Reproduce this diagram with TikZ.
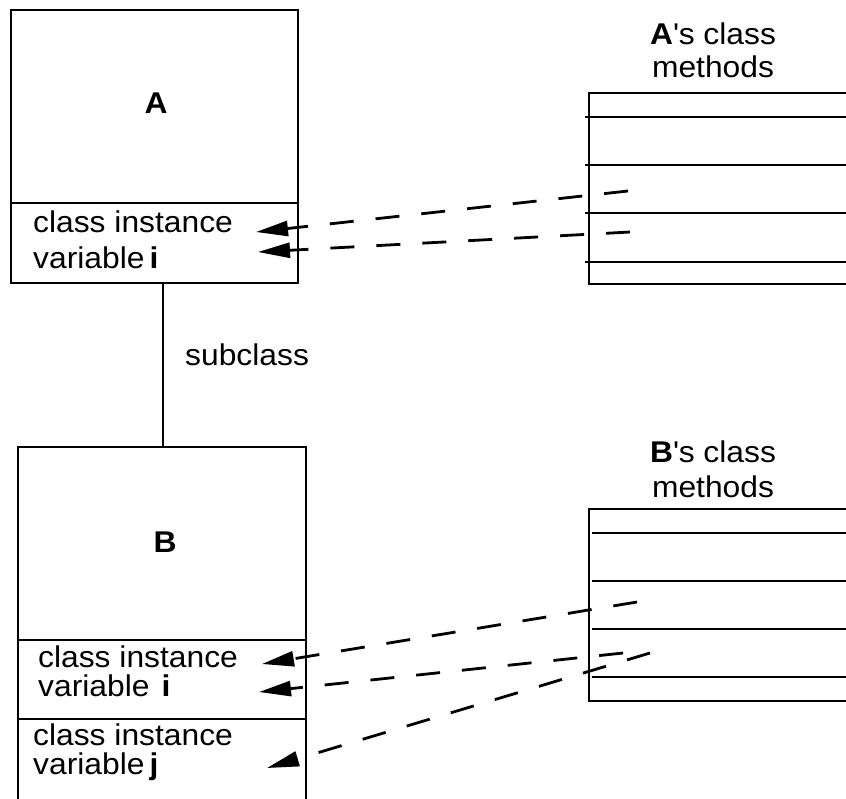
\documentclass[tikz,border=0pt]{standalone}
\usepackage{fontspec}
\setmainfont{Liberation Sans}[FakeStretch=1.06]
\usetikzlibrary{arrows.meta}
\tikzset{
  frame/.style={draw=black, line width=2.4pt},
  classbox/.style={frame, rectangle, inner sep=0pt},
  lbl/.style={inner sep=0pt, anchor=base west, font=\fontsize{30}{35}\selectfont},
  ctr/.style={inner sep=0pt, anchor=base, font=\fontsize{30}{35}\selectfont},
  methref/.style={line width=2.8pt, dash pattern=on 24pt off 22pt,
    -{Triangle[length=32pt 0, width=15pt 0]}},
}
\begin{document}
\begin{tikzpicture}[x=1pt,y=-1pt]
\useasboundingbox (0,0) rectangle (846,798);
% class boxes
\node[classbox, minimum width=287pt, minimum height=273pt] (A) at (154.5,146.5) {};
\node[classbox, minimum width=288pt, minimum height=355pt] (B) at (162,624.5) {};
\draw[frame] (A.west |- 0,203) -- (A.east |- 0,203);
\draw[frame] (B.west |- 0,640) -- (B.east |- 0,640);
\draw[frame] (B.west |- 0,719) -- (B.east |- 0,719);
% subclass link
\draw[frame] (A.south -| 163,0) -- (B.north -| 163,0);
\node[lbl] (sub) at (185,365) {subclass};
% texts in A
\node[ctr] (An) at (156,113) {\textbf{A}};
\node[lbl] (Ai1) at (33,232) {class instance};
\node[lbl] (Ai2) at (33,268) {variable\,\textbf{i}};
% texts in B
\node[ctr] (Bn) at (165,552) {\textbf{B}};
\node[lbl] (Bi1) at (38,667) {class instance};
\node[lbl] (Bi2) at (38,696) {variable\hspace{12pt}\textbf{i}};
\node[lbl] (Bj1) at (33,745) {class instance};
\node[lbl] (Bj2) at (33,774) {variable\,\textbf{j}};
% method tables
\node[ctr] (Amt1) at (713,44) {\textbf{A}\textquotesingle s class};
\node[ctr] (Amt2) at (713,77) {methods};
\node[ctr] (Bmt1) at (713,462) {\textbf{B}\textquotesingle s class};
\node[ctr] (Bmt2) at (713,497) {methods};
\draw[frame] (848,93) -- (589,93) -- (589,284) -- (848,284);
\foreach \yy in {117,165,213,262} \draw[frame] (585,\yy) -- (848,\yy);
\draw[frame] (848,509) -- (589,509) -- (589,701) -- (848,701);
\foreach \yy in {533,581,629,677} \draw[frame] (592,\yy) -- (848,\yy);
% connector ends
\coordinate (am1) at (628,191);
\coordinate (am2) at (630,232);
\coordinate (at1) at (256,232);
\coordinate (at2) at (258,252);
\coordinate (bm1) at (637,602);
\coordinate (bm2) at (623,653);
\coordinate (bm3) at (650,653);
\coordinate (bt1) at (262,664);
\coordinate (bt2) at (259,692);
\coordinate (bt3) at (267,768);
\draw[methref] (am1) -- (at1);
\draw[methref] (am2) -- (at2);
\draw[methref] (bm1) -- (bt1);
\draw[methref] (bm2) -- (bt2);
\draw[methref] (bm3) -- (bt3);
\end{tikzpicture}
\end{document}
